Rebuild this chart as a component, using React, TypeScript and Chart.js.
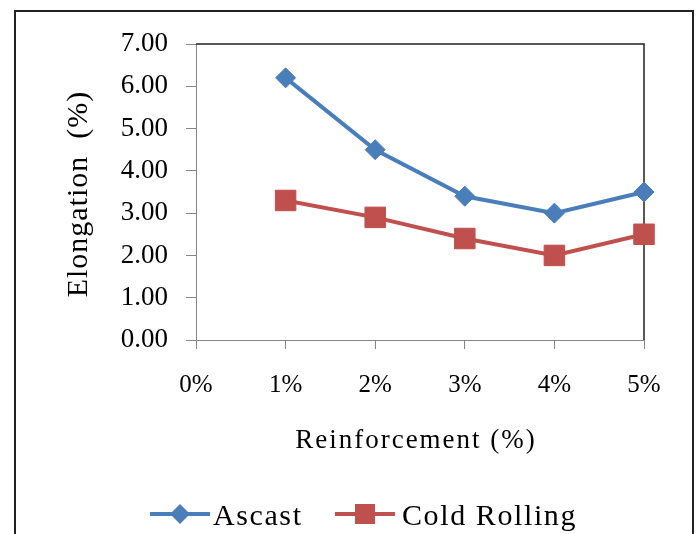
import React, { useEffect, useRef } from "react";
import { Chart, registerables } from "chart.js";

Chart.register(...registerables);

const categories = ["0%", "1%", "2%", "3%", "4%", "5%"];
const ascast = [null, 6.2, 4.5, 3.4, 3.0, 3.5];
const coldRolling = [null, 3.3, 2.9, 2.4, 2.0, 2.5];
const seriesNames = ["Ascast", "Cold Rolling"];
const yTitle = "Elongation  (%)";
const xTitle = "Reinforcement (%)";

const BLUE = "#4A7EBB";
const RED = "#C0504D";
const SERIF = "'Liberation Serif', 'DejaVu Serif', serif";

const decorPlugin = {
  id: "decor",
  beforeDatasetsDraw(chart: any) {
    const { ctx, chartArea } = chart;
    ctx.save();
    ctx.strokeStyle = "#222";
    ctx.lineWidth = 1.5;
    ctx.beginPath();
    ctx.moveTo(chartArea.left, chartArea.top);
    ctx.lineTo(chartArea.right, chartArea.top);
    ctx.lineTo(chartArea.right, chartArea.bottom);
    ctx.stroke();
    ctx.restore();
  },
  afterDraw(chart: any) {
    const { ctx, chartArea } = chart;
    ctx.save();
    ctx.fillStyle = "#000";
    // y title
    ctx.font = `30px ${SERIF}`;
    (ctx as any).letterSpacing = "1px";
    ctx.textAlign = "center";
    ctx.textBaseline = "alphabetic";
    ctx.save();
    ctx.translate(87, (chartArea.top + chartArea.bottom) / 2 + 2);
    ctx.rotate(-Math.PI / 2);
    ctx.fillText(yTitle, 0, 0);
    ctx.restore();
    // x title
    ctx.font = `27px ${SERIF}`;
    (ctx as any).letterSpacing = "2px";
    ctx.fillText(xTitle, 416, 448);
    // legend
    const items = [
      { x: 150, tx: 213, color: BLUE, style: "rectRot", r: 10, label: chart.data.datasets[0].label },
      { x: 335, tx: 402, color: RED, style: "rect", r: 15.5, label: chart.data.datasets[1].label },
    ];
    const ly = 514;
    ctx.font = `30px ${SERIF}`;
    (ctx as any).letterSpacing = "1.6px";
    ctx.textAlign = "left";
    for (const it of items) {
      ctx.strokeStyle = it.color;
      ctx.lineWidth = 4;
      ctx.beginPath();
      ctx.moveTo(it.x, ly);
      ctx.lineTo(it.x + 60, ly);
      ctx.stroke();
      ctx.fillStyle = it.color;
      ctx.beginPath();
      if (it.style === "rectRot") {
        const cx = it.x + 30;
        ctx.moveTo(cx, ly - it.r);
        ctx.lineTo(cx + it.r, ly);
        ctx.lineTo(cx, ly + it.r);
        ctx.lineTo(cx - it.r, ly);
        ctx.closePath();
      } else {
        const h = 10;
        ctx.rect(it.x + 30 - h, ly - h, 2 * h, 2 * h);
      }
      ctx.fill();
      ctx.fillStyle = "#000";
      ctx.fillText(it.label, it.tx, 525);
    }
    ctx.restore();
  },
};

export default function App() {
  const ref = useRef<HTMLCanvasElement>(null);
  useEffect(() => {
    if (!ref.current) return;
    const chart = new Chart(ref.current, {
      type: "line",
      data: {
        labels: categories,
        datasets: [
          {
            label: seriesNames[0],
            data: ascast,
            borderColor: BLUE,
            backgroundColor: BLUE,
            borderWidth: 4,
            pointStyle: "rectRot",
            pointRadius: 10,
            pointBorderWidth: 1,
            pointBorderColor: BLUE,
            pointBackgroundColor: BLUE,
            clip: false,
            tension: 0,
          } as any,
          {
            label: seriesNames[1],
            data: coldRolling,
            borderColor: RED,
            backgroundColor: RED,
            borderWidth: 4,
            pointStyle: "rect",
            pointRadius: 14.5,
            pointBorderWidth: 1,
            pointBorderColor: RED,
            pointBackgroundColor: RED,
            clip: false,
            tension: 0,
          } as any,
        ],
      },
      options: {
        animation: false,
        responsive: false,
        layout: { padding: { left: 20, right: 56, top: 44, bottom: 94 } },
        plugins: { legend: { display: false }, tooltip: { enabled: false } },
        scales: {
          x: {
            type: "category",
            offset: false,
            grid: { drawOnChartArea: false, drawTicks: true, tickLength: 9, color: "#868686" },
            border: { color: "#868686", width: 1 },
            ticks: {
              color: "#000",
              padding: 21,
              maxRotation: 0,
              autoSkip: false,
              font: { family: SERIF, size: 25 },
            },
            afterFit(scale: any) {
              scale.height = 100;
            },
          },
          y: {
            min: 0,
            max: 7,
            grid: { drawOnChartArea: false, drawTicks: true, tickLength: 10, color: "#868686" },
            border: { color: "#868686", width: 1 },
            ticks: {
              stepSize: 1,
              color: "#000",
              padding: 18,
              font: { family: SERIF, size: 27 },
              callback: (v: any) => Number(v).toFixed(2),
            },
            afterFit(scale: any) {
              scale.width = 176;
            },
          },
        },
      } as any,
      plugins: [decorPlugin],
    });
    return () => chart.destroy();
  }, []);

  return (
    <div
      style={{
        position: "fixed",
        left: 0,
        top: 0,
        width: 700,
        height: 534,
        overflow: "hidden",
        background: "#fff",
      }}
    >
      <div
        style={{
          position: "absolute",
          left: 14,
          top: 10,
          width: 680,
          height: 560,
          border: "2.5px solid #222",
          boxSizing: "border-box",
        }}
      />
      <canvas
        ref={ref}
        width={700}
        height={534}
        style={{ position: "absolute", left: 0, top: 0, width: 700, height: 534 }}
      />
    </div>
  );
}
